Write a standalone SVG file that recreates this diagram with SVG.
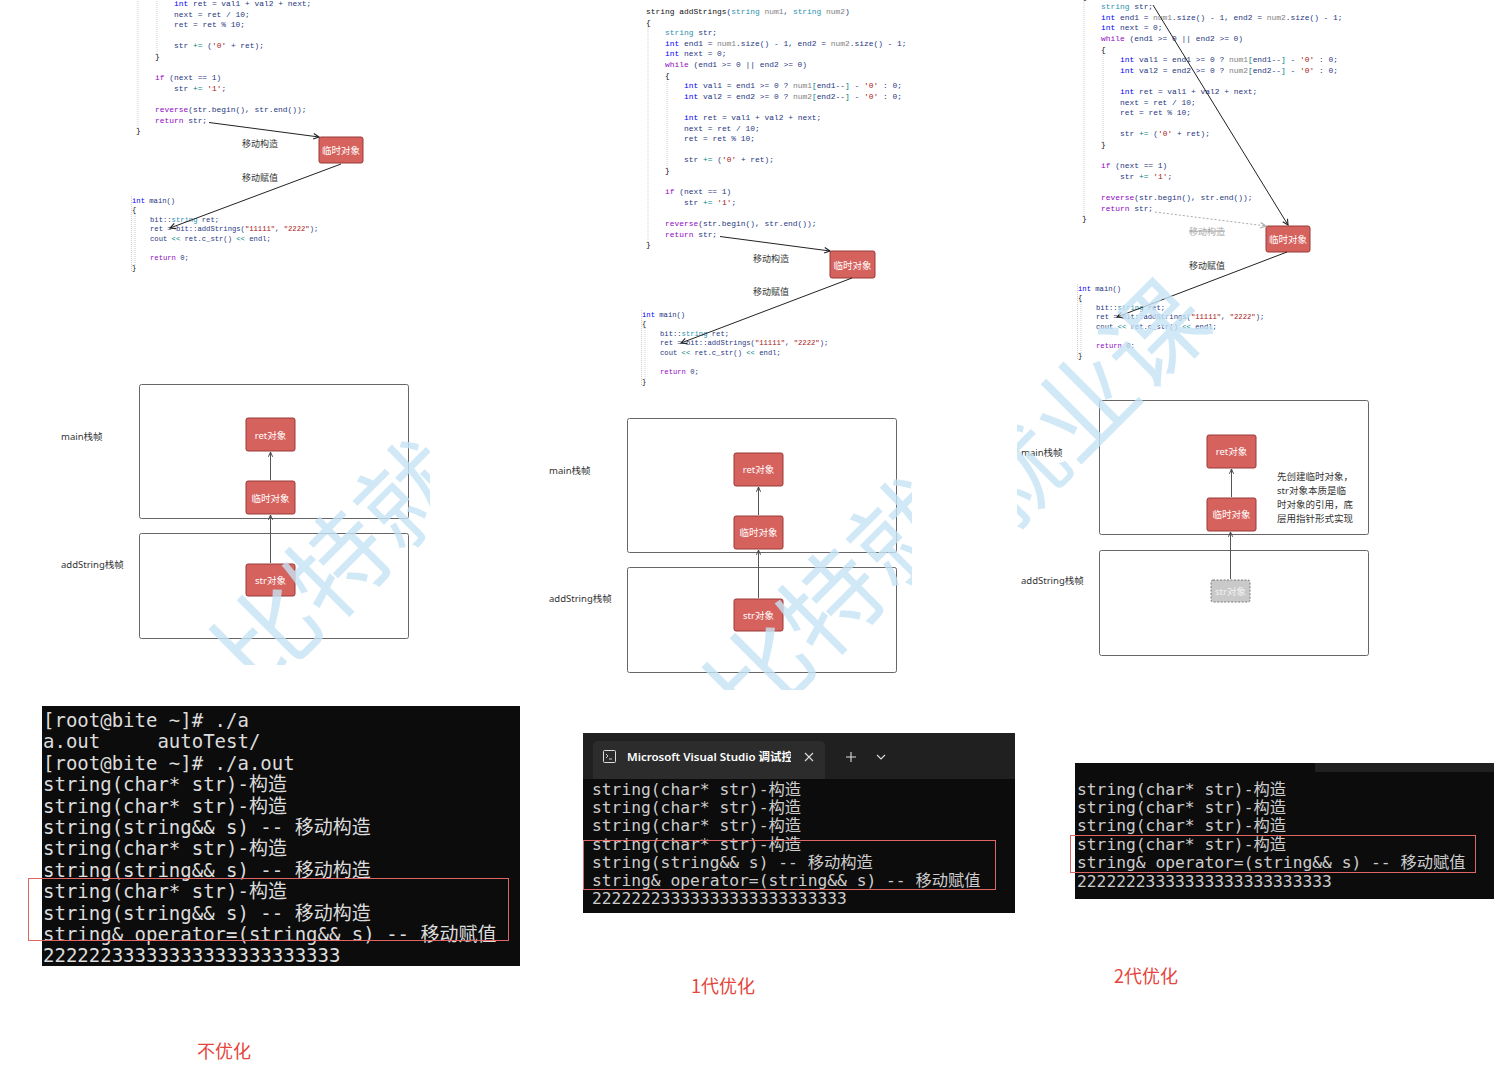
<svg xmlns="http://www.w3.org/2000/svg" xmlns:xlink="http://www.w3.org/1999/xlink" width="1499" height="1067" viewBox="0 0 1499 1067">
<style>
.code{font-family:"Liberation Mono","DejaVu Sans Mono",monospace;font-size:7.9px;fill:#1f377f;white-space:pre}
.mcode{font-size:7.2px}
.kw{fill:#0000ff}.ctl{fill:#8f08c4}.ty{fill:#2b91af}.pa{fill:#808080}.lit{fill:#a31515}.op{fill:#008080}.blk{fill:#111}
.guide{stroke:#cfcfcf;stroke-width:1;stroke-dasharray:1 1;fill:none}
.lbl{font-family:"Noto Sans CJK SC","Noto Sans",sans-serif;font-size:9px;fill:#333;text-anchor:middle;dominant-baseline:central}
.struck{fill:#a8a8a8;text-decoration:line-through}
.red{fill:#d6625e;stroke:#9a3b39;stroke-width:1}
.ntext{font-family:"Noto Sans","Noto Sans CJK SC",sans-serif;font-size:9.5px;fill:#fff;text-anchor:middle;dominant-baseline:central}
.frame{fill:none;stroke:#666;stroke-width:1}
.flbl{font-family:"Noto Sans","Noto Sans CJK SC",sans-serif;font-size:9.5px;fill:#333;dominant-baseline:central}
.conn{stroke:#222;stroke-width:1;fill:none}
.dconn{stroke:#555;stroke-width:1;fill:none}
.ghost{fill:#c9c9c9;stroke:#7a7a7a;stroke-width:1;stroke-dasharray:2 1.5}
.tl{font-family:"DejaVu Sans Mono","Noto Sans CJK SC",monospace;font-size:19px;fill:#dcdcdc;white-space:pre}
.tm{font-family:"DejaVu Sans Mono","Noto Sans CJK SC",monospace;font-size:16.3px;fill:#cccccc;white-space:pre}
.hl{fill:none;stroke:#e06666;stroke-width:1}
.cap{font-family:"Noto Sans CJK SC","Noto Sans",sans-serif;font-size:18px;fill:#e5453c;text-anchor:middle;dominant-baseline:central}
.wm{font-family:"Noto Sans CJK SC",sans-serif;font-size:100px;fill:#c6e4f5;opacity:0.8}
</style>
<defs>
<marker id="arr" viewBox="0 0 10 10" refX="9" refY="5" markerWidth="7" markerHeight="7" orient="auto"><path d="M1,1 L9,5 L1,9" fill="none" stroke="#222" stroke-width="1.6"/></marker>
<marker id="arrg" viewBox="0 0 10 10" refX="9" refY="5" markerWidth="7" markerHeight="7" orient="auto"><path d="M1,1 L9,5 L1,9" fill="none" stroke="#aaa" stroke-width="1.6"/></marker>
<marker id="up" viewBox="0 0 10 10" refX="9" refY="5" markerWidth="6" markerHeight="6" orient="auto"><path d="M1,1.5 L9,5 L1,8.5" fill="none" stroke="#444" stroke-width="1.6"/></marker>
<clipPath id="cL"><rect x="50" y="378" width="380" height="287"/></clipPath>
<clipPath id="cM"><rect x="540" y="412" width="372" height="278"/></clipPath>
<clipPath id="cR"><rect x="1017" y="270" width="358" height="275"/></clipPath>
<clipPath id="cTab"><rect x="600" y="740" width="191" height="36"/></clipPath>
<g id="codeSnippet" class="code">
<path class="guide" d="M648,25 V243 M667,79 V169 M641.5,310 V386 M645,328 V380"/>
<text x="646" y="14"><tspan class="blk">string</tspan> <tspan class="blk">addStrings</tspan>(<tspan class="ty">string</tspan> <tspan class="pa">num1</tspan>, <tspan class="ty">string</tspan> <tspan class="pa">num2</tspan>)</text>
<text x="646" y="24.6" class="blk">{</text>
<text x="665" y="35.2"><tspan class="ty">string</tspan> str;</text>
<text x="665" y="45.8"><tspan class="kw">int</tspan> end1 = <tspan class="pa">num1</tspan>.size() - 1, end2 = <tspan class="pa">num2</tspan>.size() - 1;</text>
<text x="665" y="56.4"><tspan class="kw">int</tspan> next = 0;</text>
<text x="665" y="67"><tspan class="ctl">while</tspan> (end1 &gt;= 0 || end2 &gt;= 0)</text>
<text x="665" y="77.6" class="blk">{</text>
<text x="684" y="88.2"><tspan class="kw">int</tspan> val1 = end1 &gt;= 0 ? <tspan class="pa">num1</tspan><tspan class="op">[</tspan>end1--<tspan class="op">]</tspan> - <tspan class="lit">'0'</tspan> : 0;</text>
<text x="684" y="98.8"><tspan class="kw">int</tspan> val2 = end2 &gt;= 0 ? <tspan class="pa">num2</tspan><tspan class="op">[</tspan>end2--<tspan class="op">]</tspan> - <tspan class="lit">'0'</tspan> : 0;</text>
<text x="684" y="120"><tspan class="kw">int</tspan> ret = val1 + val2 + next;</text>
<text x="684" y="130.6">next = ret / 10;</text>
<text x="684" y="141.2">ret = ret % 10;</text>
<text x="684" y="162.4">str <tspan class="op">+=</tspan> (<tspan class="lit">'0'</tspan> + ret);</text>
<text x="665" y="173" class="blk">}</text>
<text x="665" y="194.2"><tspan class="ctl">if</tspan> (next == 1)</text>
<text x="684" y="204.8">str <tspan class="op">+=</tspan> <tspan class="lit">'1'</tspan>;</text>
<text x="665" y="226"><tspan class="ctl">reverse</tspan>(str.begin(), str.end());</text>
<text x="665" y="236.6"><tspan class="ctl">return</tspan> str;</text>
<text x="646" y="247.2" class="blk">}</text>
<g class="mcode">
<text x="642" y="316.5"><tspan class="kw">int</tspan> main()</text>
<text x="642" y="326" class="blk">{</text>
<text x="660" y="335.5">bit::<tspan class="ty">string</tspan> ret;</text>
<text x="660" y="345">ret = bit::addStrings(<tspan class="lit">"11111"</tspan>, <tspan class="lit">"2222"</tspan>);</text>
<text x="660" y="354.5">cout <tspan class="op">&lt;&lt;</tspan> ret.c_str() <tspan class="op">&lt;&lt;</tspan> endl;</text>
<text x="660" y="374"><tspan class="ctl">return</tspan> 0;</text>
<text x="642" y="383.5" class="blk">}</text>
</g>
</g>
</defs>
<rect width="1499" height="1067" fill="#fff"/>

<!-- code screenshots -->
<use href="#codeSnippet" transform="translate(-510,-114)"/>
<use href="#codeSnippet"/>
<use href="#codeSnippet" transform="translate(436,-26)"/>

<!-- code-area nodes -->
<g id="tmp-left"><rect class="red" x="319" y="137" width="44" height="26" rx="2"/><text class="ntext" x="341" y="150.5">临时对象</text></g>
<g id="tmp-mid"><rect class="red" x="830" y="251" width="45" height="27" rx="2"/><text class="ntext" x="852.5" y="265">临时对象</text></g>
<g id="tmp-right"><rect class="red" x="1266" y="226" width="44" height="26" rx="2"/><text class="ntext" x="1288" y="239.5">临时对象</text></g>

<!-- stack frame diagrams -->
<g id="frame-main-left"><rect class="frame" x="139.5" y="384.5" width="269" height="134" rx="2"/><text class="flbl" x="61" y="436">main栈帧</text></g>
<g id="frame-add-left"><rect class="frame" x="139.5" y="533.5" width="269" height="105" rx="2"/><text class="flbl" x="61" y="564">addString栈帧</text></g>
<g id="ret-left"><rect class="red" x="246" y="418" width="49" height="33" rx="2"/><text class="ntext" x="270.5" y="435">ret对象</text></g>
<g id="tmpobj-left"><rect class="red" x="246" y="481" width="49" height="33" rx="2"/><text class="ntext" x="270.5" y="498">临时对象</text></g>
<g id="str-left"><rect class="red" x="246" y="564" width="49" height="32" rx="2"/><text class="ntext" x="270.5" y="580.5">str对象</text></g>

<g id="frame-main-mid"><rect class="frame" x="627.5" y="418.5" width="269" height="134" rx="2"/><text class="flbl" x="549" y="470">main栈帧</text></g>
<g id="frame-add-mid"><rect class="frame" x="627.5" y="567.5" width="269" height="105" rx="2"/><text class="flbl" x="549" y="598">addString栈帧</text></g>
<g id="ret-mid"><rect class="red" x="734" y="453" width="49" height="33" rx="2"/><text class="ntext" x="758.5" y="469.5">ret对象</text></g>
<g id="tmpobj-mid"><rect class="red" x="734" y="516" width="49" height="33" rx="2"/><text class="ntext" x="758.5" y="532.5">临时对象</text></g>
<g id="str-mid"><rect class="red" x="734" y="599" width="49" height="32" rx="2"/><text class="ntext" x="758.5" y="615.5">str对象</text></g>

<g id="frame-main-right"><rect class="frame" x="1099.5" y="400.5" width="269" height="134" rx="2"/><text class="flbl" x="1021" y="452">main栈帧</text></g>
<g id="frame-add-right"><rect class="frame" x="1099.5" y="550.5" width="269" height="105" rx="2"/><text class="flbl" x="1021" y="580">addString栈帧</text></g>
<g id="ret-right"><rect class="red" x="1207" y="435" width="49" height="33" rx="2"/><text class="ntext" x="1231.5" y="451.5">ret对象</text></g>
<g id="tmpobj-right"><rect class="red" x="1207" y="498" width="49" height="33" rx="2"/><text class="ntext" x="1231.5" y="514.5">临时对象</text></g>
<g id="str-right"><rect class="ghost" x="1211" y="580" width="39" height="22" rx="2"/><text class="ntext" x="1230.5" y="591" style="fill:#f2f2f2">str对象</text></g>
<g id="note-right" class="flbl">
<text x="1277" y="476">先创建临时对象，</text>
<text x="1277" y="490">str对象本质是临</text>
<text x="1277" y="504">时对象的引用，底</text>
<text x="1277" y="518">层用指针形式实现</text>
</g>

<!-- connectors -->
<g id="connectors">
<line class="conn" x1="209" y1="122.5" x2="319" y2="137" marker-end="url(#arr)"/>
<line class="conn" x1="341" y1="164" x2="170" y2="228" marker-end="url(#arr)"/>
<line class="conn" x1="720" y1="236.5" x2="830" y2="251" marker-end="url(#arr)"/>
<line class="conn" x1="852" y1="278" x2="681" y2="343" marker-end="url(#arr)"/>
<line class="conn" x1="1153" y1="5" x2="1288" y2="225" marker-end="url(#arr)"/>
<line x1="1155" y1="212" x2="1266" y2="226" stroke="#aaa" stroke-width="1" stroke-dasharray="2 2" marker-end="url(#arrg)"/>
<line class="conn" x1="1287" y1="252" x2="1117" y2="317" marker-end="url(#arr)"/>
<line class="dconn" x1="270.5" y1="480" x2="270.5" y2="452" marker-end="url(#up)"/>
<line class="dconn" x1="270.5" y1="563" x2="270.5" y2="515" marker-end="url(#up)"/>
<line class="dconn" x1="758.5" y1="515" x2="758.5" y2="487" marker-end="url(#up)"/>
<line class="dconn" x1="758.5" y1="598" x2="758.5" y2="550" marker-end="url(#up)"/>
<line class="dconn" x1="1231.5" y1="497" x2="1231.5" y2="469" marker-end="url(#up)"/>
<line class="dconn" x1="1230.5" y1="579" x2="1230.5" y2="532" marker-end="url(#up)"/>
</g>

<!-- connector labels -->
<g id="conn-labels">
<text class="lbl" x="260" y="143">移动构造</text>
<text class="lbl" x="260" y="177">移动赋值</text>
<text class="lbl" x="771" y="258">移动构造</text>
<text class="lbl" x="771" y="291">移动赋值</text>
<text class="lbl struck" x="1207" y="231">移动构造</text>
<text class="lbl" x="1207" y="265">移动赋值</text>
</g>

<!-- watermarks -->
<g clip-path="url(#cL)"><text class="wm" transform="translate(258,697) rotate(-45)">比特就业课</text></g>
<g clip-path="url(#cM)"><text class="wm" transform="translate(751,735) rotate(-45)">比特就业课</text></g>
<g clip-path="url(#cR)"><text class="wm" transform="translate(863,679) rotate(-45)">比特就业课</text></g>

<!-- terminal: no optimisation -->
<g id="term-left">
<rect x="42" y="706" width="478" height="260" fill="#0c0c0c"/>
<text class="tl" x="43" y="727">[root@bite ~]# ./a</text>
<text class="tl" x="43" y="748.4">a.out     autoTest/</text>
<text class="tl" x="43" y="769.8">[root@bite ~]# ./a.out</text>
<text class="tl" x="43" y="791.2">string(char* str)-构造</text>
<text class="tl" x="43" y="812.6">string(char* str)-构造</text>
<text class="tl" x="43" y="834">string(string&amp;&amp; s) -- 移动构造</text>
<text class="tl" x="43" y="855.4">string(char* str)-构造</text>
<text class="tl" x="43" y="876.8">string(string&amp;&amp; s) -- 移动构造</text>
<text class="tl" x="43" y="898.2">string(char* str)-构造</text>
<text class="tl" x="43" y="919.6">string(string&amp;&amp; s) -- 移动构造</text>
<text class="tl" x="43" y="941">string&amp; operator=(string&amp;&amp; s) -- 移动赋值</text>
<text class="tl" x="43" y="962.4">22222233333333333333333333</text>
<rect class="hl" x="28.5" y="878.5" width="480" height="62"/>
</g>

<!-- terminal: 1st optimisation -->
<g id="term-mid">
<rect x="583" y="733" width="432" height="180" fill="#0c0c0c"/>
<rect x="583" y="733" width="432" height="46" fill="#202020"/>
<path d="M593,779 V746 Q593,741 598,741 H820 Q825,741 825,746 V779 Z" fill="#2c2c2c"/>
<rect x="603.5" y="750.5" width="12" height="12" rx="1" fill="none" stroke="#ddd" stroke-width="1"/>
<path d="M606,754 L608,756 L606,758 M609,759 H612" fill="none" stroke="#ddd" stroke-width="0.9"/>
<g clip-path="url(#cTab)"><text x="627" y="761" font-family="'Noto Sans','Noto Sans CJK SC',sans-serif" font-size="11.5" font-weight="600" fill="#ffffff">Microsoft Visual Studio 调试控制台</text></g>
<path d="M805,753 L813,761 M813,753 L805,761" stroke="#ddd" stroke-width="1.1"/>
<path d="M846,757 H856 M851,752 V762" stroke="#ddd" stroke-width="1.1"/>
<path d="M877,755 L881,759 L885,755" fill="none" stroke="#ddd" stroke-width="1.1"/>
<text class="tm" x="592" y="795">string(char* str)-构造</text>
<text class="tm" x="592" y="813">string(char* str)-构造</text>
<text class="tm" x="592" y="831">string(char* str)-构造</text>
<text class="tm" x="592" y="849.5">string(char* str)-构造</text>
<text class="tm" x="592" y="867.5">string(string&amp;&amp; s) -- 移动构造</text>
<text class="tm" x="592" y="886">string&amp; operator=(string&amp;&amp; s) -- 移动赋值</text>
<text class="tm" x="592" y="904">22222223333333333333333333</text>
<rect class="hl" x="583.5" y="840.5" width="412" height="49"/>
</g>

<!-- terminal: 2nd optimisation -->
<g id="term-right">
<rect x="1075" y="763" width="419" height="136" fill="#0c0c0c"/>
<rect x="1315" y="763" width="179" height="9" fill="#202020"/>
<text class="tm" x="1077" y="795">string(char* str)-构造</text>
<text class="tm" x="1077" y="813">string(char* str)-构造</text>
<text class="tm" x="1077" y="831">string(char* str)-构造</text>
<text class="tm" x="1077" y="849.5">string(char* str)-构造</text>
<text class="tm" x="1077" y="868">string&amp; operator=(string&amp;&amp; s) -- 移动赋值</text>
<text class="tm" x="1077" y="886.5">22222223333333333333333333</text>
<rect class="hl" x="1070.5" y="835.5" width="405" height="37"/>
</g>

<!-- captions -->
<text class="cap" x="224" y="1050">不优化</text>
<text class="cap" x="723" y="985">1代优化</text>
<text class="cap" x="1146" y="975">2代优化</text>
</svg>
